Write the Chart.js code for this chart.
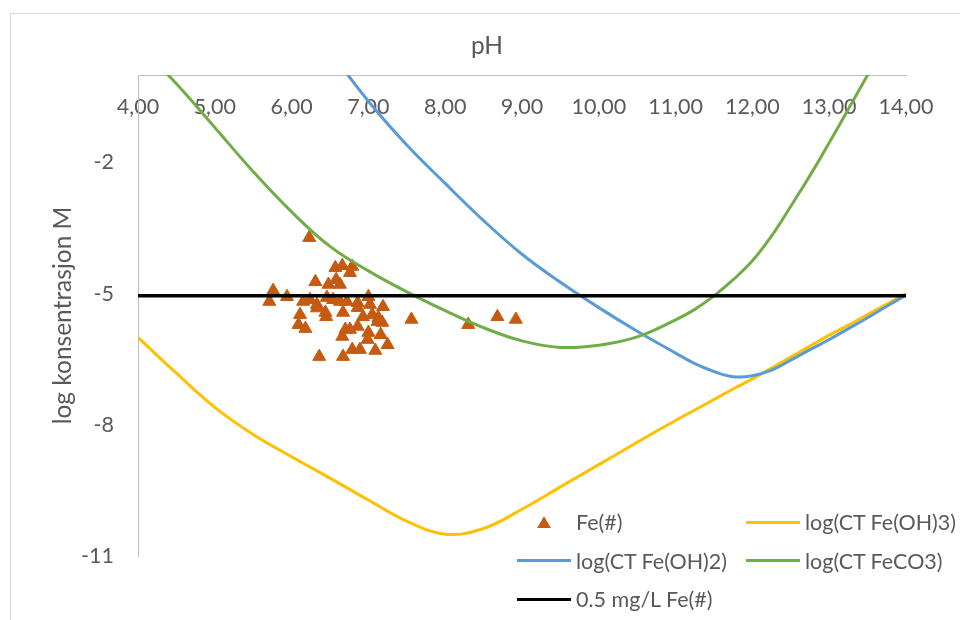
<!DOCTYPE html>
<html>
<head>
<meta charset="utf-8">
<script src="https://cdn.jsdelivr.net/npm/chart.js@4.4.0/dist/chart.umd.min.js"></script>
<style>
  html, body { margin: 0; padding: 0; background: #fff; overflow: hidden; }
  #wrap { position: relative; width: 960px; height: 620px; overflow: hidden; }
  #frame { position: absolute; left: 10px; top: 13px; width: 1000px; height: 700px; border: 1px solid #d9d9d9; }
  #chart { position: absolute; left: 0; top: 0; }
  #legend {
    position: absolute; left: 517px; top: 503px;
    display: grid; grid-template-columns: 229px auto; grid-auto-rows: 38.5px; align-items: center;
    font: 21.5px Lato, sans-serif; color: #595959;
  }
  .item { display: flex; align-items: center; white-space: nowrap; }
  .swatch { width: 54px; height: 24px; margin-right: 5px; display: flex; align-items: center; justify-content: center; }
  .bar { width: 54px; }
  .tri { width: 14px; height: 12px; clip-path: polygon(50% 0, 100% 100%, 0 100%); }
</style>
</head>
<body>
<div id="wrap">
  <div id="frame"></div>
  <canvas id="chart" width="960" height="620"></canvas>
  <div id="legend"></div>
</div>
<script>
// pH grid used by the solubility curves (finer where FeCO3 turns up)
const phGrid = [4.0, 4.5, 5.0, 5.5, 6.0, 6.5, 7.0, 7.5, 8.0, 8.5, 9.0, 9.5, 10.0, 10.5,
  11.0, 11.25, 11.5, 11.75, 12.0, 12.25, 12.5, 12.75, 13.0, 13.25, 13.5, 13.75, 14.0];

// log total Fe in equilibrium with each solid phase
const feOH3 = [-6.0, -6.82, -7.6, -8.22, -8.73, -9.22, -9.72, -10.2, -10.5, -10.37, -9.93, -9.42, -8.91, -8.4,
  -7.9, -7.66, -7.42, -7.18, -6.95, -6.7, -6.45, -6.2, -5.95, -5.72, -5.48, -5.24, -5.0];
const feOH2 = [null, null, null, null, 1.75, 0.55, -0.6, -1.6, -2.48, -3.33, -4.1, -4.74, -5.32, -5.86,
  -6.36, -6.6, -6.78, -6.9, -6.88, -6.75, -6.52, -6.28, -6.05, -5.8, -5.55, -5.29, -5.03];
const feCO3 = [0.7, -0.2, -1.2, -2.21, -3.13, -3.92, -4.48, -4.96, -5.39, -5.78, -6.08, -6.23, -6.18, -5.99,
  -5.6, -5.36, -5.05, -4.68, -4.25, -3.68, -3.0, -2.3, -1.55, -0.78, 0.0, 0.78, 1.55];

// 0.5 mg/L Fe as log mol/L
const limitPh = [4, 14];
const limitLog = [-5.05, -5.05];

// measured samples
const samplePh = [6.23, 5.76, 5.71, 5.94, 6.31, 6.57, 6.66, 6.79, 6.76, 6.48, 6.63, 6.58,
  6.24, 6.15, 6.33, 6.46, 6.54, 6.63, 6.72, 6.86, 7.0, 7.02, 7.19, 6.11, 6.09, 6.18,
  6.45, 6.67, 6.86, 6.93, 7.05, 7.12, 7.18, 6.86, 6.70, 6.66, 6.76, 7.0, 7.16, 6.99,
  7.25, 6.79, 6.89, 7.09, 6.36, 6.67, 7.56, 8.30, 8.68, 8.92, 6.33, 6.44, 7.13];
const sampleLog = [-3.72, -4.93, -5.18, -5.07, -4.73, -4.41, -4.36, -4.38, -4.52, -4.79, -4.79, -4.68,
  -5.14, -5.18, -5.25, -5.09, -5.14, -5.18, -5.18, -5.21, -5.07, -5.25, -5.30, -5.48, -5.71, -5.80,
  -5.53, -5.43, -5.32, -5.53, -5.48, -5.64, -5.66, -5.75, -5.82, -5.98, -5.82, -5.89, -5.94, -6.05,
  -6.17, -6.28, -6.28, -6.30, -6.44, -6.44, -5.59, -5.71, -5.53, -5.59, -5.33, -5.43, -5.55];

const yTicks = [-11, -8, -5, -2];

const TEXT = "#595959";
const TICK_FONT = { family: "Lato", size: 21.5, weight: "normal" };
const TITLE_FONT = { family: "Lato", size: 24.5, weight: "normal" };

function pairs(xs, ys) {
  return xs.map((x, i) => ({ x: x, y: ys[i] }));
}

function curve(label, ys, color, order) {
  return {
    label: label,
    data: pairs(phGrid, ys),
    showLine: true,
    borderColor: color,
    backgroundColor: color,
    borderWidth: 3,
    pointRadius: 0,
    tension: 0.4,
    clip: 0,
    order: order,
  };
}

const chart = new Chart(document.getElementById("chart"), {
  type: "scatter",
  data: {
    datasets: [
      {
        label: "Fe(#)",
        data: pairs(samplePh, sampleLog),
        showLine: false,
        pointStyle: "triangle",
        pointRadius: 7.5,
        backgroundColor: "#C55A11",
        borderColor: "#C55A11",
        borderWidth: 1,
        order: 5,
      },
      curve("log(CT Fe(OH)3)", feOH3, "#FFC000", 4),
      curve("log(CT Fe(OH)2)", feOH2, "#5B9BD5", 3),
      curve("log(CT FeCO3)", feCO3, "#70AD47", 2),
      {
        label: "0.5 mg/L Fe(#)",
        data: pairs(limitPh, limitLog),
        showLine: true,
        borderColor: "#000000",
        backgroundColor: "#000000",
        borderWidth: 3.5,
        pointRadius: 0,
        tension: 0,
        clip: 0,
        order: 1,
      },
    ],
  },
  options: {
    responsive: false,
    animation: false,
    layout: { padding: { left: 14, right: 0, top: 0, bottom: 64 } },
    elements: { line: { capBezierPoints: false } },
    plugins: {
      legend: { display: false },
      tooltip: { enabled: false },
      title: {
        display: true,
        text: "pH",
        color: TEXT,
        font: TITLE_FONT,
        padding: { top: 31, bottom: 14.6 },
      },
    },
    scales: {
      x: {
        type: "linear",
        min: 4,
        max: 14,
        position: { y: 0 },
        grid: { display: false, drawTicks: false },
        border: { color: "#bfbfbf", width: 1 },
        ticks: {
          stepSize: 1,
          padding: 19,
          color: TEXT,
          font: TICK_FONT,
          maxRotation: 0,
          autoSkip: false,
          callback: (v) => v.toFixed(2).replace(".", ","),
        },
        afterFit: (s) => { s.height = 0; },
      },
      y: {
        type: "linear",
        min: -11,
        max: 0,
        position: "left",
        grid: { display: false, drawTicks: false },
        border: { color: "#bfbfbf", width: 1 },
        ticks: { padding: 24, color: TEXT, font: TICK_FONT },
        afterBuildTicks: (s) => { s.ticks = yTicks.map((v) => ({ value: v })); },
        title: {
          display: true,
          text: "log konsentrasjon M",
          color: TEXT,
          font: TITLE_FONT,
          padding: { top: 34, bottom: 0 },
        },
        afterFit: (s) => { s.width = 124; },
      },
      // empty axis that keeps room free on the right
      yRight: {
        type: "linear",
        position: "right",
        grid: { display: false, drawTicks: false },
        border: { display: false },
        ticks: { display: false },
        afterFit: (s) => { s.width = 54; },
      },
    },
  },
});

// HTML legend in two columns, built from the datasets
const legendEl = document.getElementById("legend");
chart.data.datasets.forEach((ds) => {
  const item = document.createElement("div");
  item.className = "item";
  const sw = document.createElement("span");
  sw.className = "swatch";
  const mark = document.createElement("span");
  if (ds.showLine === false) {
    mark.className = "tri";
    mark.style.background = ds.backgroundColor;
  } else {
    mark.className = "bar";
    mark.style.background = ds.borderColor;
    mark.style.height = ds.borderWidth + "px";
  }
  sw.appendChild(mark);
  item.appendChild(sw);
  const txt = document.createElement("span");
  txt.textContent = ds.label;
  item.appendChild(txt);
  legendEl.appendChild(item);
});
</script>
</body>
</html>
